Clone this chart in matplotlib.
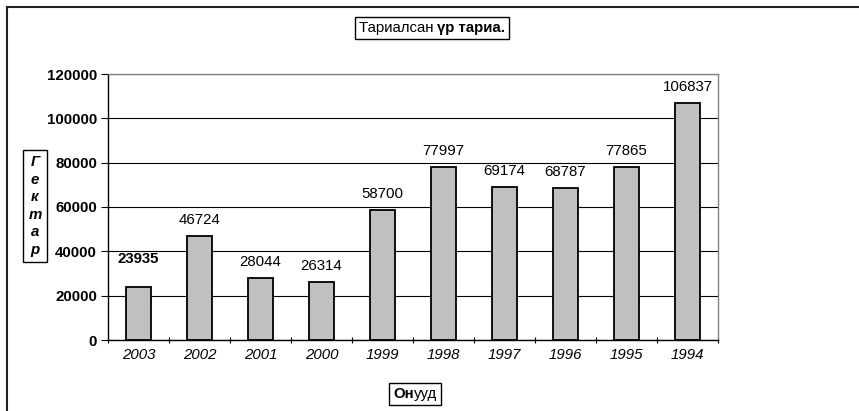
import matplotlib
matplotlib.use("Agg")
import matplotlib.pyplot as plt
from matplotlib.lines import Line2D
from matplotlib.offsetbox import TextArea, HPacker, VPacker, AnchoredOffsetbox
import numpy as np

years = ["2003", "2002", "2001", "2000", "1999", "1998", "1997", "1996", "1995", "1994"]
values = [23935, 46724, 28044, 26314, 58700, 77997, 69174, 68787, 77865, 106837]
yticks = [0, 20000, 40000, 60000, 80000, 100000, 120000]

plt.rcParams['font.family'] = ['Liberation Sans', 'DejaVu Sans']
FS = 10.8

W, H = 859, 411
fig = plt.figure(figsize=(W/100, H/100), dpi=100)
ax = fig.add_axes([108/W, (H-340)/H, 610/W, 266/H])

x = np.arange(len(years))
ax.bar(x, values, width=0.41, color='#C0C0C0', edgecolor='black', linewidth=1.3, zorder=3)
ax.set_xlim(-0.5, len(years)-0.5)
ax.set_ylim(0, 120000)
ax.set_yticks(yticks)
ax.set_yticklabels([str(v) for v in yticks], fontweight='bold', fontsize=FS)
ax.yaxis.grid(True, color='black', linewidth=0.8, zorder=0)
ax.set_axisbelow(True)

ax.set_xticks(x)
ax.set_xticklabels(years, fontstyle='italic', fontsize=FS)
ax.tick_params(axis='x', which='major', length=0, pad=6)
ax.set_xticks(np.arange(len(years)+1)-0.5, minor=True)
ax.tick_params(axis='x', which='minor', length=5, width=0.8, direction='inout')
ax.tick_params(axis='y', length=5, width=0.8, direction='out', pad=3)

for s in ['top', 'right']:
    ax.spines[s].set_color('#808080')
    ax.spines[s].set_linewidth(1.0)
for s in ['left', 'bottom']:
    ax.spines[s].set_color('black')
    ax.spines[s].set_linewidth(1.0)

for i, v in enumerate(values):
    bold = (i == 0)
    off = 20 if bold else 11.5
    ax.annotate(str(v), (i, v), xytext=(0, off), textcoords='offset points',
                ha='center', va='center', fontsize=FS,
                fontweight='bold' if bold else 'normal')

# Title box
t1 = TextArea("Тариалсан ", textprops=dict(fontsize=FS))
t2 = TextArea("үр тариа.", textprops=dict(fontsize=FS, fontweight='bold'))
title = HPacker(children=[t1, t2], align='baseline', pad=0, sep=0)
ab = AnchoredOffsetbox(loc='center', child=title, pad=0.3, borderpad=0, frameon=True,
                       bbox_to_anchor=(432/W, 1-28/H), bbox_transform=fig.transFigure)
ab.patch.set_edgecolor('black'); ab.patch.set_linewidth(1.0)
fig.add_artist(ab)

# X label box
x1 = TextArea("Он", textprops=dict(fontsize=FS, fontweight='bold'))
x2 = TextArea("ууд", textprops=dict(fontsize=FS))
xl = HPacker(children=[x1, x2], align='baseline', pad=0, sep=0)
abx = AnchoredOffsetbox(loc='center', child=xl, pad=0.3, borderpad=0, frameon=True,
                        bbox_to_anchor=(415/W, 1-394/H), bbox_transform=fig.transFigure)
abx.patch.set_edgecolor('black'); abx.patch.set_linewidth(1.0)
fig.add_artist(abx)

# Y label box (stacked letters)
letters = [TextArea(c, textprops=dict(fontsize=FS, fontweight='bold', fontstyle='italic'))
           for c in "Гектар"]
yl = VPacker(children=letters, align='center', pad=0, sep=2.5)
aby = AnchoredOffsetbox(loc='center', child=yl, pad=0.35, borderpad=0, frameon=True,
                        bbox_to_anchor=(35/W, 1-206/H), bbox_transform=fig.transFigure)
aby.patch.set_edgecolor('black'); aby.patch.set_linewidth(1.0)
fig.add_artist(aby)

# Outer chart frame (left and top edges visible)
fig.add_artist(Line2D([7/W, 7/W], [0, 1-7/H], transform=fig.transFigure, color='#222222', linewidth=1.5))
fig.add_artist(Line2D([7/W, 1], [1-7/H, 1-7/H], transform=fig.transFigure, color='#222222', linewidth=1.5))

fig.savefig("out.png", dpi=100)
